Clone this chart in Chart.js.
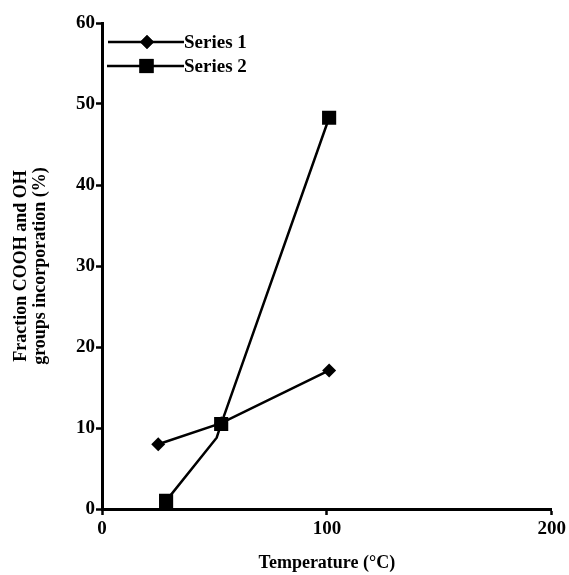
<!DOCTYPE html>
<html><head><meta charset="utf-8">
<script src="https://cdn.jsdelivr.net/npm/chart.js@4"></script>
<style>html,body{margin:0;padding:0;background:#fff}</style>
</head><body>
<canvas id="c" width="569" height="575"></canvas>
<script>
const series1X = [25, 53, 101];
const series1Y = [8.0, 10.6, 17.1];
const series2X = [28.5, 51, 53, 101];
const series2Y = [1.0, 8.8, 10.5, 48.3];
const series2Radius = [10, 0, 10, 10];
const seriesNames = ['Series 1', 'Series 2'];
const xTicks = [0, 100, 200];
const yTicks = [0, 10, 20, 30, 40, 50, 60];
const xTitle = 'Temperature (°C)';
const yTitle = ['Fraction COOH and OH', 'groups incorporation (%)'];

const toPts = (xs, ys) => xs.map((x, i) => ({x, y: ys[i]}));

const legendPlugin = {
  id: 'customLegend',
  afterDraw(chart) {
    const ctx = chart.ctx;
    const items = [
      {y: 42, x0: 108, x1: 184, style: 'rectRot', r: 7},
      {y: 66, x0: 107, x1: 184, style: 'rect', r: 10}
    ];
    ctx.save();
    items.forEach((it, i) => {
      ctx.strokeStyle = '#000'; ctx.lineWidth = 2.5;
      ctx.beginPath(); ctx.moveTo(it.x0, it.y); ctx.lineTo(it.x1, it.y); ctx.stroke();
      ctx.fillStyle = '#000';
      Chart.helpers.drawPoint(ctx, {pointStyle: it.style, radius: it.r, borderWidth: 0}, (it.x0 + it.x1) / 2 + 1, it.y);
      ctx.fill();
      ctx.font = 'bold 19px "Liberation Serif"';
      ctx.textBaseline = 'middle';
      ctx.fillText(seriesNames[i], 184, it.y + 1);
    });
    ctx.restore();
  }
};

new Chart(document.getElementById('c'), {
  type: 'line',
  data: {
    datasets: [
      {label: seriesNames[0], data: toPts(series1X, series1Y), borderColor: '#000', backgroundColor: '#000', borderWidth: 2.5, pointStyle: 'rectRot', pointRadius: 7, pointBorderWidth: 0, tension: 0},
      {label: seriesNames[1], data: toPts(series2X, series2Y), borderColor: '#000', backgroundColor: '#000', borderWidth: 2.5, pointStyle: 'rect', pointRadius: series2Radius, pointBorderWidth: 0, tension: 0}
    ]
  },
  options: {
    responsive: false,
    animation: false,
    layout: {padding: {top: 23, right: 16, left: 0, bottom: 0}},
    plugins: {legend: {display: false}, tooltip: {enabled: false}},
    scales: {
      x: {
        type: 'linear', min: 0, max: 200,
        afterBuildTicks: s => { s.ticks = xTicks.map(v => ({value: v})); },
        afterFit: s => { s.height = 66; },
        grid: {display: true, drawOnChartArea: false, drawTicks: true, tickLength: 6, tickColor: '#000', tickWidth: 2.5},
        border: {color: '#000', width: 3},
        ticks: {color: '#000', font: {family: 'Liberation Serif', size: 19, weight: 'bold'}, padding: 3, maxRotation: 0},
        title: {display: true, text: xTitle, color: '#000', font: {family: 'Liberation Serif', size: 18, weight: 'bold'}, padding: {top: 0, bottom: 1}}
      },
      y: {
        type: 'linear', min: 0, max: 60,
        afterBuildTicks: s => { s.ticks = yTicks.map(v => ({value: v})); },
        afterFit: s => { s.width = 102; },
        grid: {display: true, drawOnChartArea: false, drawTicks: true, tickLength: 6, tickColor: '#000', tickWidth: 2.5},
        border: {color: '#000', width: 3},
        ticks: {color: '#000', font: {family: 'Liberation Serif', size: 19, weight: 'bold'}, padding: 1},
        title: {display: true, text: yTitle, color: '#000', font: {family: 'Liberation Serif', size: 18, weight: 'bold', lineHeight: 1.05}, padding: {top: 12, bottom: 0}}
      }
    }
  },
  plugins: [legendPlugin]
});
</script>
</body></html>
